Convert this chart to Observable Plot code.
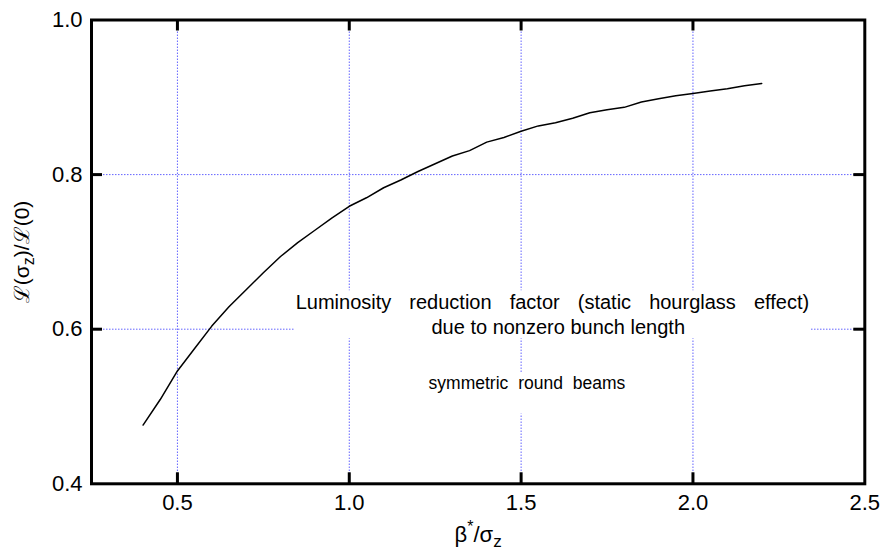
<!DOCTYPE html>
<html>
<head>
<meta charset="utf-8">
<script src="https://cdn.jsdelivr.net/npm/d3@7"></script>
<script src="https://cdn.jsdelivr.net/npm/@observablehq/plot@0.6"></script>
<style>
  html, body { margin: 0; padding: 0; background: #fff; }
  #chart svg { display: block; }
</style>
</head>
<body>
<div id="chart"></div>
<script>
// ---- data ----
const betaOverSigma = [0.40, 0.45, 0.50, 0.55, 0.60, 0.65, 0.70, 0.75, 0.80, 0.85, 0.90, 0.95,
  1.00, 1.05, 1.10, 1.15, 1.20, 1.25, 1.30, 1.35, 1.40, 1.45, 1.50, 1.55, 1.60, 1.65, 1.70,
  1.75, 1.80, 1.85, 1.90, 1.95, 2.00, 2.05, 2.10, 2.15, 2.20];
const lumiRatio = [0.476, 0.509, 0.546, 0.575, 0.604, 0.629, 0.651, 0.673, 0.694, 0.712, 0.728, 0.744,
  0.759, 0.770, 0.783, 0.793, 0.804, 0.814, 0.824, 0.831, 0.842, 0.848, 0.856, 0.863, 0.867, 0.873, 0.880,
  0.884, 0.887, 0.894, 0.898, 0.902, 0.905, 0.908, 0.911, 0.915, 0.918];

const xTicks = [0.5, 1.0, 1.5, 2.0];
const yTicks = [0.6, 0.8];
const xTickValues = [0.5, 1.0, 1.5, 2.0, 2.5];
const xTickLabels = ["0.5", "1.0", "1.5", "2.0", "2.5"];
const yTickValues = [0.4, 0.6, 0.8, 1.0];
const yTickLabels = ["0.4", "0.6", "0.8", "1.0"];
const xGrid = [0.5, 1.0, 1.5, 2.0];
const yGrid = [0.6, 0.8];

const xLabel = "β*/σz";
const yLabel = "ℒ(σz)/ℒ(0)";

const noteText = ["Luminosity reduction factor (static hourglass effect)",
                  "due to nonzero bunch length",
                  "symmetric round beams"];
const noteX = [1.591, 1.608, 1.517];
const noteY = [0.6264, 0.594, 0.523];
// white boxes behind the notes (data units)
const maskX1 = [0.8435, 1.231];
const maskX2 = [2.342, 1.802];
const maskY1 = [0.5876, 0.4902];
const maskY2 = [0.6497, 0.5432];

// ---- tables built from the arrays ----
const curve = betaOverSigma.map((x, i) => ({x, y: lumiRatio[i]}));
const masks = maskX1.map((x1, i) => ({x1, x2: maskX2[i], y1: maskY1[i], y2: maskY2[i]}));
const xLab = xTickValues.map((v, i) => ({v, t: xTickLabels[i]}));
const yLab = yTickValues.map((v, i) => ({v, t: yTickLabels[i]}));

const W = 883, H = 554, ML = 91, MR = 18.7, MT = 19.5, MB = 70.7;
const FW = W - ML - MR, FH = H - MT - MB, TL = 11;
const FONT = "\"Liberation Sans\", Arial, Helvetica, sans-serif";
const GRID = "#6464ff";
const tickStyle = {stroke: "black", strokeWidth: 3, strokeLinecap: "butt"};

const chart = Plot.plot({
  width: W,
  height: H,
  marginLeft: ML,
  marginRight: MR,
  marginTop: MT,
  marginBottom: MB,
  style: {fontFamily: FONT, background: "white", color: "black", overflow: "visible"},
  x: {domain: [0.25, 2.5], axis: null},
  y: {domain: [0.4, 1.0], axis: null},
  marks: [
    Plot.ruleX(xGrid, {x: d => d, stroke: GRID, strokeWidth: 1, strokeDasharray: "1.5,1.5"}),
    Plot.ruleY(yGrid, {y: d => d, stroke: GRID, strokeWidth: 1, strokeDasharray: "1.5,1.5"}),
    Plot.line(curve, {x: "x", y: "y", stroke: "black", strokeWidth: 1.5}),
    Plot.rect(masks, {x1: "x1", x2: "x2", y1: "y1", y2: "y2", fill: "white"}),
    Plot.text([noteText[0]], {x: noteX[0], y: noteY[0], text: d => d, fontSize: 20, lineAnchor: "bottom", textAnchor: "middle", fill: "black"}),
    Plot.text([noteText[1]], {x: noteX[1], y: noteY[1], text: d => d, fontSize: 20, lineAnchor: "bottom", textAnchor: "middle", fill: "black"}),
    Plot.text([noteText[2]], {x: noteX[2], y: noteY[2], text: d => d, fontSize: 17.5, lineAnchor: "bottom", textAnchor: "middle", fill: "black"}),
    Plot.frame({stroke: "black", strokeWidth: 3}),
    // inward ticks on all four sides
    Plot.ruleX(xTicks, {x: d => d, insetTop: FH - TL, ...tickStyle}),
    Plot.ruleX(xTicks, {x: d => d, insetBottom: FH - TL, ...tickStyle}),
    Plot.ruleY(yTicks, {y: d => d, insetRight: FW - TL, ...tickStyle}),
    Plot.ruleY(yTicks, {y: d => d, insetLeft: FW - TL, ...tickStyle}),
    Plot.text(xLab, {x: "v", text: "t", frameAnchor: "bottom", dy: 26, lineAnchor: "bottom", textAnchor: "middle", fontSize: 22, fill: "black"}),
    Plot.text(yLab, {y: "v", text: "t", frameAnchor: "left", dx: -9, textAnchor: "end", lineAnchor: "middle", fontSize: 22, fill: "black"}),
    Plot.text([xLabel], {text: d => d, frameAnchor: "bottom", dy: 58.4, lineAnchor: "bottom", textAnchor: "middle", fontSize: 22, fill: "black"}),
    Plot.text([yLabel], {text: d => d, frameAnchor: "left", dx: -69, rotate: -90, lineAnchor: "middle", textAnchor: "middle", fontSize: 21, fill: "black"})
  ]
});

document.getElementById("chart").appendChild(chart);

// typographic touches: word spacing, super/subscripts
d3.select(chart).selectAll("text").each(function() {
  const t = this.textContent;
  const s = d3.select(this);
  if (t === noteText[0]) s.style("word-spacing", "12.5px");
  else if (t === noteText[2]) s.style("word-spacing", "5px");
  else if (t === xLabel) {
    s.html('β<tspan dy="-10" font-size="16">*</tspan><tspan dy="10">/σ</tspan><tspan dy="5" font-size="17">z</tspan>');
  } else if (t === yLabel) {
    s.html('ℒ(σ<tspan dy="5" font-size="16">z</tspan><tspan dy="-5">)/ℒ(0)</tspan>');
  }
});
</script>
</body>
</html>
